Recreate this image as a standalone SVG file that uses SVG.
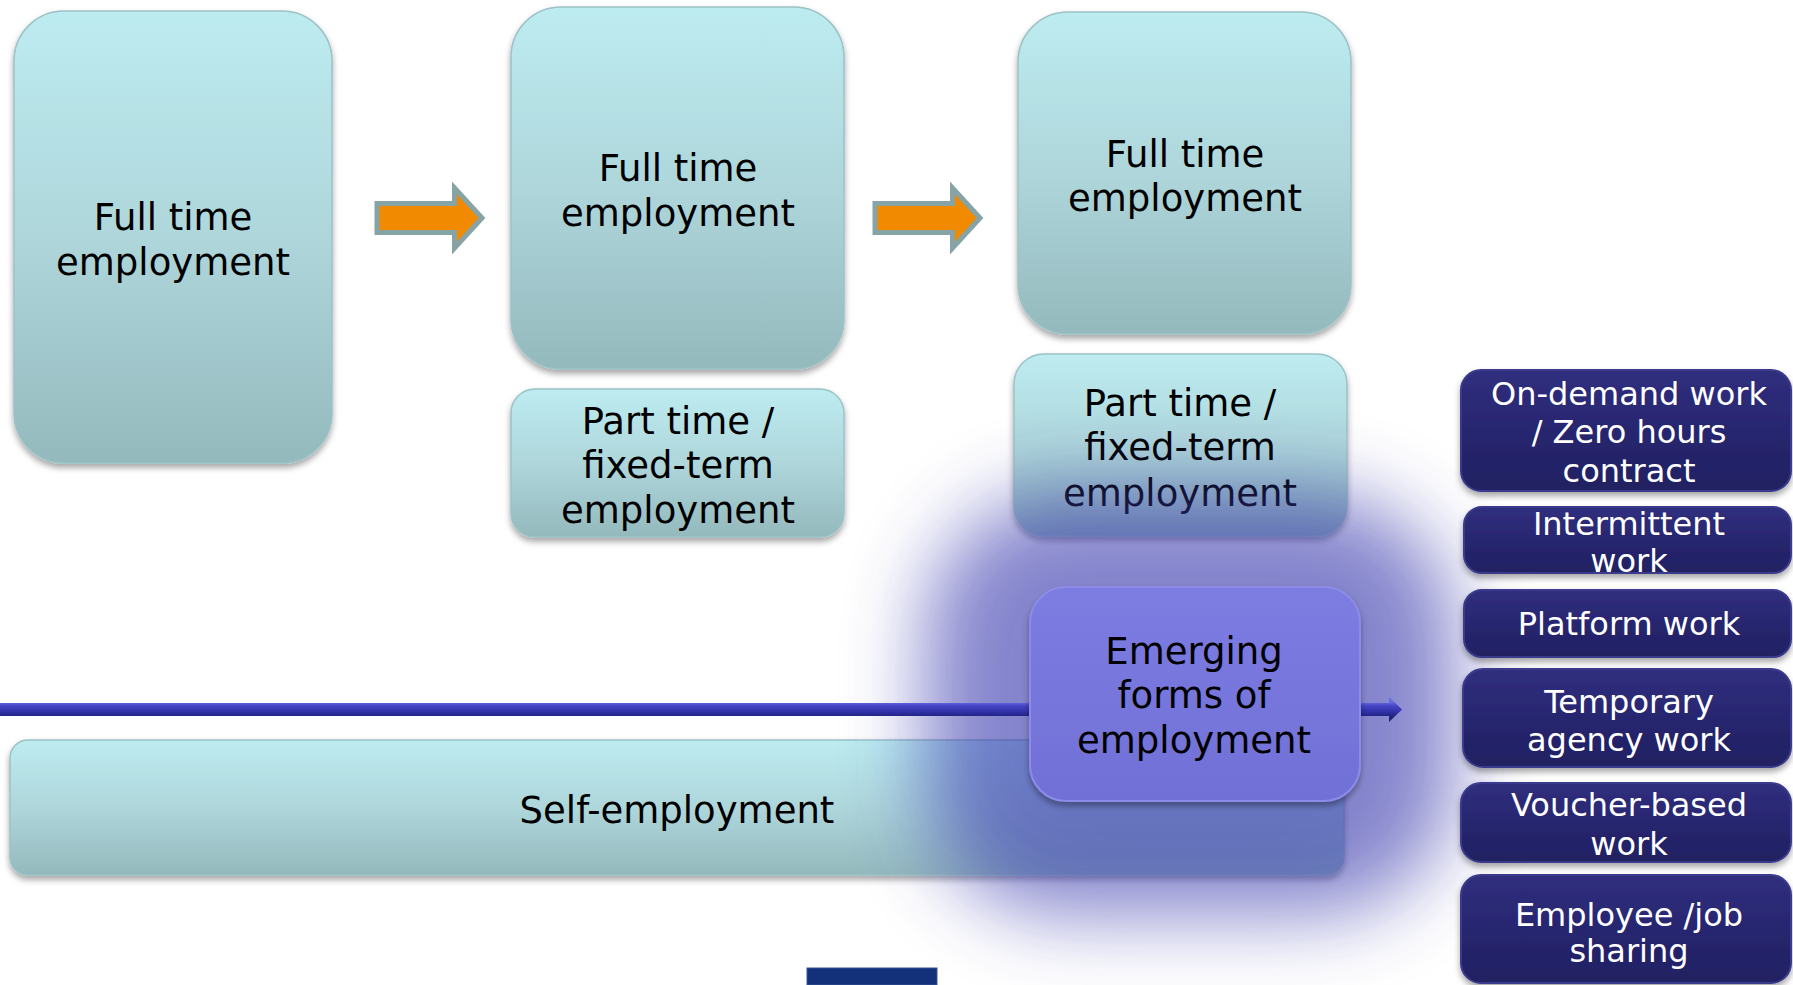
<svg xmlns="http://www.w3.org/2000/svg" width="1793" height="985" viewBox="0 0 1793 985">
<style>
  .cy { fill: url(#gCyan); stroke: #9CC2C6; stroke-width: 1.5; filter: url(#shadow); }
  .em { fill: url(#gEm); stroke: #8C8CE8; stroke-width: 2; filter: url(#shadow); }
  .nv { fill: url(#gNavy); stroke: #3B3B8E; stroke-width: 2; filter: url(#shadow); }
  .t  { font-family: "DejaVu Sans", Verdana, sans-serif; font-size: 37px; fill: #000; text-anchor: middle; }
  .tw { font-family: "DejaVu Sans", Verdana, sans-serif; font-size: 32px; fill: #fff; text-anchor: middle; }
  .oa { fill: #F28A00; stroke: #86A3A5; stroke-width: 5; stroke-linejoin: miter; }
</style>
<defs>
  <linearGradient id="gCyan" x1="0" y1="0" x2="0" y2="1">
    <stop offset="0" stop-color="#BDECF0"/>
    <stop offset="0.5" stop-color="#AED6DB"/>
    <stop offset="1" stop-color="#94B9BD"/>
  </linearGradient>
  <linearGradient id="gEm" x1="0" y1="0" x2="0" y2="1">
    <stop offset="0" stop-color="#7C7CE2"/>
    <stop offset="1" stop-color="#7070D6"/>
  </linearGradient>
  <linearGradient id="gNavy" x1="0" y1="0" x2="0" y2="1">
    <stop offset="0" stop-color="#302F7E"/>
    <stop offset="0.5" stop-color="#272670"/>
    <stop offset="1" stop-color="#212062"/>
  </linearGradient>
  <linearGradient id="gLine" x1="0" y1="0" x2="0" y2="1">
    <stop offset="0.2" stop-color="#6A6AE0"/>
    <stop offset="0.35" stop-color="#4646C6"/>
    <stop offset="0.6" stop-color="#3030A8"/>
    <stop offset="0.8" stop-color="#20207A"/>
  </linearGradient>
  <filter id="shadow" x="-10%" y="-10%" width="120%" height="130%">
    <feDropShadow dx="0" dy="4" stdDeviation="3" flood-color="#000" flood-opacity="0.35"/>
  </filter>
  <filter id="glowBlur" x="-40%" y="-40%" width="180%" height="180%">
    <feGaussianBlur stdDeviation="40"/>
  </filter>
</defs>

<rect width="1793" height="985" fill="#fff"/>

<g id="node-full-1">
  <rect class="cy" x="14" y="11" width="318" height="452" rx="50"/>
  <text class="t" x="173" y="230">Full time</text>
  <text class="t" x="173" y="275">employment</text>
</g>
<g id="node-full-2">
  <rect class="cy" x="511" y="7" width="333" height="362" rx="50"/>
  <text class="t" x="678" y="181">Full time</text>
  <text class="t" x="678" y="226">employment</text>
</g>
<g id="node-part-2">
  <rect class="cy" x="511" y="389" width="333" height="148" rx="24"/>
  <text class="t" x="678" y="434">Part time /</text>
  <text class="t" x="678" y="478">fixed-term</text>
  <text class="t" x="678" y="523">employment</text>
</g>
<g id="node-full-3">
  <rect class="cy" x="1018" y="12" width="333" height="322" rx="50"/>
  <text class="t" x="1185" y="167">Full time</text>
  <text class="t" x="1185" y="211">employment</text>
</g>
<g id="node-part-3">
  <rect class="cy" x="1014" y="354" width="333" height="182" rx="30"/>
  <text class="t" x="1180" y="416">Part time /</text>
  <text class="t" x="1180" y="460">fixed-term</text>
  <text class="t" x="1180" y="506">employment</text>
</g>
<g id="node-self">
  <rect class="cy" x="10" y="740" width="1334" height="135" rx="18"/>
  <text class="t" x="677" y="823">Self-employment</text>
</g>

<g id="glow">
  <rect x="925" y="495" width="530" height="420" rx="140" fill="#3F3FB1" opacity="0.64" filter="url(#glowBlur)"/>
</g>

<g id="connectors">
  <path class="oa" d="M377,203.5 H454.5 V188 L482,218 L454.5,248 V232.5 H377 Z"/>
  <path class="oa" d="M875,203.5 H952.5 V188 L980,218 L952.5,248 V232.5 H875 Z"/>
  <path d="M0,703 H1389 V697 L1402,709.5 L1389,722 V716 H0 Z" fill="url(#gLine)"/>
</g>

<g id="node-emerging">
  <rect class="em" x="1030" y="587" width="330" height="214" rx="36"/>
  <text class="t" x="1194" y="664">Emerging</text>
  <text class="t" x="1194" y="708">forms of</text>
  <text class="t" x="1194" y="753">employment</text>
</g>

<g id="node-ondemand">
  <rect class="nv" x="1461" y="370" width="330" height="121" rx="20"/>
  <text class="tw" x="1629" y="405">On-demand work</text>
  <text class="tw" x="1629" y="443">/ Zero hours</text>
  <text class="tw" x="1629" y="482">contract</text>
</g>
<g id="node-intermittent">
  <rect class="nv" x="1464" y="507" width="327" height="66" rx="18"/>
  <text class="tw" x="1629" y="535">Intermittent</text>
  <text class="tw" x="1629" y="572">work</text>
</g>
<g id="node-platform">
  <rect class="nv" x="1464" y="590" width="327" height="67" rx="18"/>
  <text class="tw" x="1629" y="635">Platform work</text>
</g>
<g id="node-temporary">
  <rect class="nv" x="1463" y="669" width="328" height="98" rx="20"/>
  <text class="tw" x="1629" y="713">Temporary</text>
  <text class="tw" x="1629" y="751">agency work</text>
</g>
<g id="node-voucher">
  <rect class="nv" x="1461" y="783" width="330" height="79" rx="20"/>
  <text class="tw" x="1629" y="816">Voucher-based</text>
  <text class="tw" x="1629" y="855">work</text>
</g>
<g id="node-employee">
  <rect class="nv" x="1461" y="875" width="330" height="108" rx="20"/>
  <text class="tw" x="1629" y="926">Employee /job</text>
  <text class="tw" x="1629" y="962">sharing</text>
</g>

<g id="bottom-block">
  <rect x="807" y="968" width="130" height="17" fill="#13317A" stroke="#3A5596" stroke-width="1"/>
</g>
</svg>
